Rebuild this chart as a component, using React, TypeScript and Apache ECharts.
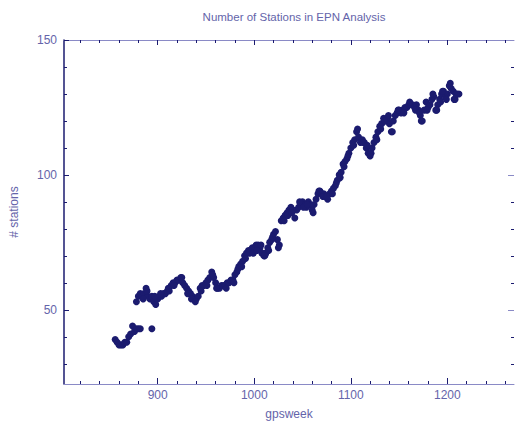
import React, { useEffect, useRef } from "react";
import * as echarts from "echarts";

const TITLE = "Number of Stations in EPN Analysis";
const X_NAME = "gpsweek";
const Y_NAME = "# stations";

const X_MIN = 803;
const X_MAX = 1269;
const Y_MIN = 22.5;
const Y_MAX = 150;

const xMajorTicks = [900, 1000, 1100, 1200];
const xMinorTicks = [820, 840, 860, 880, 920, 940, 960, 980, 1020, 1040, 1060, 1080, 1120, 1140, 1160, 1180, 1220, 1240, 1260];
const yMajorTicks = [50, 100, 150];
const yMinorTicks = [30, 40, 60, 70, 80, 90, 110, 120, 130, 140];

// [gpsweek, # stations]
const earlyBand: [number, number][] = [
  [856, 39], [858, 38], [860, 37], [862, 37], [864, 37], [866, 38], [868, 38], [870, 40],
  [872, 41], [874, 44], [876, 42], [878, 43], [880, 43], [882, 43], [894, 43],
];

const mainBand: [number, number][] = [
  [878, 53], [880, 55], [882, 56], [884, 55], [886, 56], [888, 58], [890, 55], [892, 54],
  [894, 55], [896, 53], [898, 52], [900, 54], [902, 55], [904, 55], [906, 56], [908, 56],
  [910, 57], [912, 57], [914, 59], [916, 60], [918, 60], [920, 61], [922, 61], [924, 62],
  [926, 60], [928, 59], [930, 58], [932, 57], [934, 56], [936, 55], [938, 54], [940, 54],
  [942, 55], [944, 58], [946, 59], [948, 59], [950, 60], [952, 61], [954, 62], [956, 64],
  [958, 62], [960, 60], [962, 58], [964, 58], [966, 59], [968, 59], [970, 59], [972, 60],
  [974, 60], [976, 61], [978, 61], [980, 63], [982, 64], [984, 66], [986, 67], [988, 68],
  [990, 70], [992, 71], [994, 72], [996, 72], [998, 73], [1000, 73], [1002, 74], [1004, 74],
  [1006, 73], [1008, 71], [1010, 70], [1012, 71], [1014, 73], [1016, 75], [1018, 76], [1020, 78],
  [1022, 79], [1024, 76], [1026, 74], [1028, 83], [1030, 84], [1032, 85], [1034, 86], [1036, 87],
  [1038, 88], [1040, 87], [1042, 84], [1044, 87], [1046, 88], [1048, 89], [1050, 90], [1052, 89],
  [1054, 88], [1056, 90], [1058, 89], [1060, 87], [1062, 89], [1064, 91], [1066, 93], [1068, 94],
  [1070, 93], [1072, 93], [1074, 92], [1076, 91], [1078, 93], [1080, 94], [1082, 95], [1084, 96],
  [1086, 98], [1088, 100], [1090, 101], [1092, 104], [1094, 105], [1096, 106], [1098, 108], [1100, 110],
  [1102, 112], [1104, 113], [1106, 116], [1108, 114], [1110, 112], [1112, 113], [1114, 112], [1116, 110],
  [1118, 108], [1120, 107], [1122, 110], [1124, 112], [1126, 114], [1128, 116], [1130, 118], [1132, 119],
  [1134, 121], [1136, 120], [1138, 121], [1140, 119], [1142, 116], [1144, 120], [1146, 122], [1148, 123],
  [1150, 124], [1152, 123], [1154, 124], [1156, 125], [1158, 125], [1160, 126], [1162, 126], [1164, 126],
  [1166, 125], [1168, 126], [1170, 124], [1172, 122], [1174, 120], [1176, 124], [1178, 127], [1180, 125],
  [1182, 126], [1184, 128], [1186, 129], [1188, 124], [1190, 126], [1192, 128], [1194, 130], [1196, 131],
  [1198, 129], [1200, 130], [1202, 133], [1204, 132], [1206, 131], [1208, 128], [1210, 130], [1212, 130],
];

const scatterPoints: [number, number][] = [
  [885, 54], [889, 57], [897, 55], [903, 56], [911, 58], [917, 59], [925, 62], [931, 56],
  [935, 54], [939, 53], [945, 57], [951, 59], [957, 63], [961, 58], [971, 58], [979, 60],
  [983, 65], [987, 66], [991, 69], [995, 71], [999, 71], [1003, 72], [1007, 74], [1011, 70],
  [1015, 72], [1019, 77], [1025, 73], [1031, 83], [1035, 85], [1039, 86], [1047, 90], [1051, 88],
  [1055, 89], [1061, 86], [1067, 94], [1071, 92], [1075, 92], [1081, 93], [1085, 97], [1089, 99],
  [1093, 103], [1097, 107], [1103, 111], [1107, 117], [1113, 112], [1117, 111], [1121, 108], [1127, 113],
  [1131, 117], [1135, 120], [1139, 122], [1143, 116], [1149, 124], [1155, 123], [1161, 127], [1167, 124],
  [1171, 123], [1173, 120], [1179, 124], [1185, 130], [1189, 124], [1193, 127], [1195, 131], [1199, 128],
  [1203, 134], [1207, 128], [1209, 130],
];

const NAVY = "#1b1b6f";
const LIGHT = "#8a8ac6";
const TEXT = "#6464aa";
const FONT = "Liberation Sans, Arial, sans-serif";

function xAxisDef(position: "top" | "bottom", ticks: number[], len: number, main: boolean, showLine: boolean) {
  return {
    type: "value",
    position,
    min: X_MIN,
    max: X_MAX,
    splitLine: { show: false },
    axisLine: { show: showLine, onZero: false, lineStyle: { color: LIGHT, width: 1 } },
    axisTick: { show: true, inside: true, length: len, customValues: ticks, lineStyle: { color: NAVY, width: 1 } },
    axisLabel: main
      ? { show: true, customValues: ticks, formatter: (v: number) => String(v), color: TEXT, fontSize: 12, fontFamily: FONT, margin: 5 }
      : { show: false },
    name: main ? X_NAME : "",
    nameLocation: "middle",
    nameGap: 24,
    nameTextStyle: { color: TEXT, fontSize: 12, fontFamily: FONT },
  };
}

function yAxisDef(position: "left" | "right", ticks: number[], len: number, main: boolean, showLine: boolean, tickColor: string) {
  return {
    type: "value",
    position,
    min: Y_MIN,
    max: Y_MAX,
    splitLine: { show: false },
    axisLine: { show: showLine, onZero: false, lineStyle: { color: NAVY, width: 1.5 } },
    axisTick: { show: true, inside: true, length: len, customValues: ticks, lineStyle: { color: tickColor, width: 1 } },
    axisLabel: main
      ? { show: true, customValues: ticks, formatter: (v: number) => String(v), color: TEXT, fontSize: 12, fontFamily: FONT, margin: 7 }
      : { show: false },
    name: main ? Y_NAME : "",
    nameLocation: "middle",
    nameGap: 44,
    nameRotate: 90,
    nameTextStyle: { color: TEXT, fontSize: 12, fontFamily: FONT },
  };
}

export default function App() {
  const ref = useRef<HTMLDivElement>(null);

  useEffect(() => {
    if (!ref.current) return;
    const chart = echarts.init(ref.current, undefined, { renderer: "svg" });
    const allPoints = [...earlyBand, ...mainBand, ...scatterPoints];
    chart.setOption({
      animation: false,
      backgroundColor: "#ffffff",
      title: {
        text: TITLE,
        left: 289,
        top: 6,
        textAlign: "center",
        textStyle: { color: TEXT, fontSize: 11.5, fontWeight: "normal", fontFamily: FONT },
      },
      grid: { left: 60, right: 1, top: 40, bottom: 41, containLabel: false },
      xAxis: [
        xAxisDef("bottom", xMajorTicks, 6, true, true),
        xAxisDef("bottom", xMinorTicks, 3, false, false),
        xAxisDef("top", xMajorTicks, 5, false, true),
        xAxisDef("top", xMinorTicks, 3, false, false),
      ],
      yAxis: [
        yAxisDef("left", yMajorTicks, 5, true, true, NAVY),
        yAxisDef("left", yMinorTicks, 3, false, false, NAVY),
        yAxisDef("right", yMajorTicks, 6, false, false, LIGHT),
        yAxisDef("right", yMinorTicks, 3, false, false, NAVY),
      ],
      series: [
        {
          type: "scatter",
          xAxisIndex: 0,
          yAxisIndex: 0,
          data: allPoints,
          symbol: "circle",
          symbolSize: 7,
          itemStyle: { color: NAVY, opacity: 1 },
        },
      ],
    });
    return () => chart.dispose();
  }, []);

  return (
    <div
      ref={ref}
      style={{ position: "absolute", left: 0, top: 0, width: 515, height: 425, background: "#fff" }}
    />
  );
}
